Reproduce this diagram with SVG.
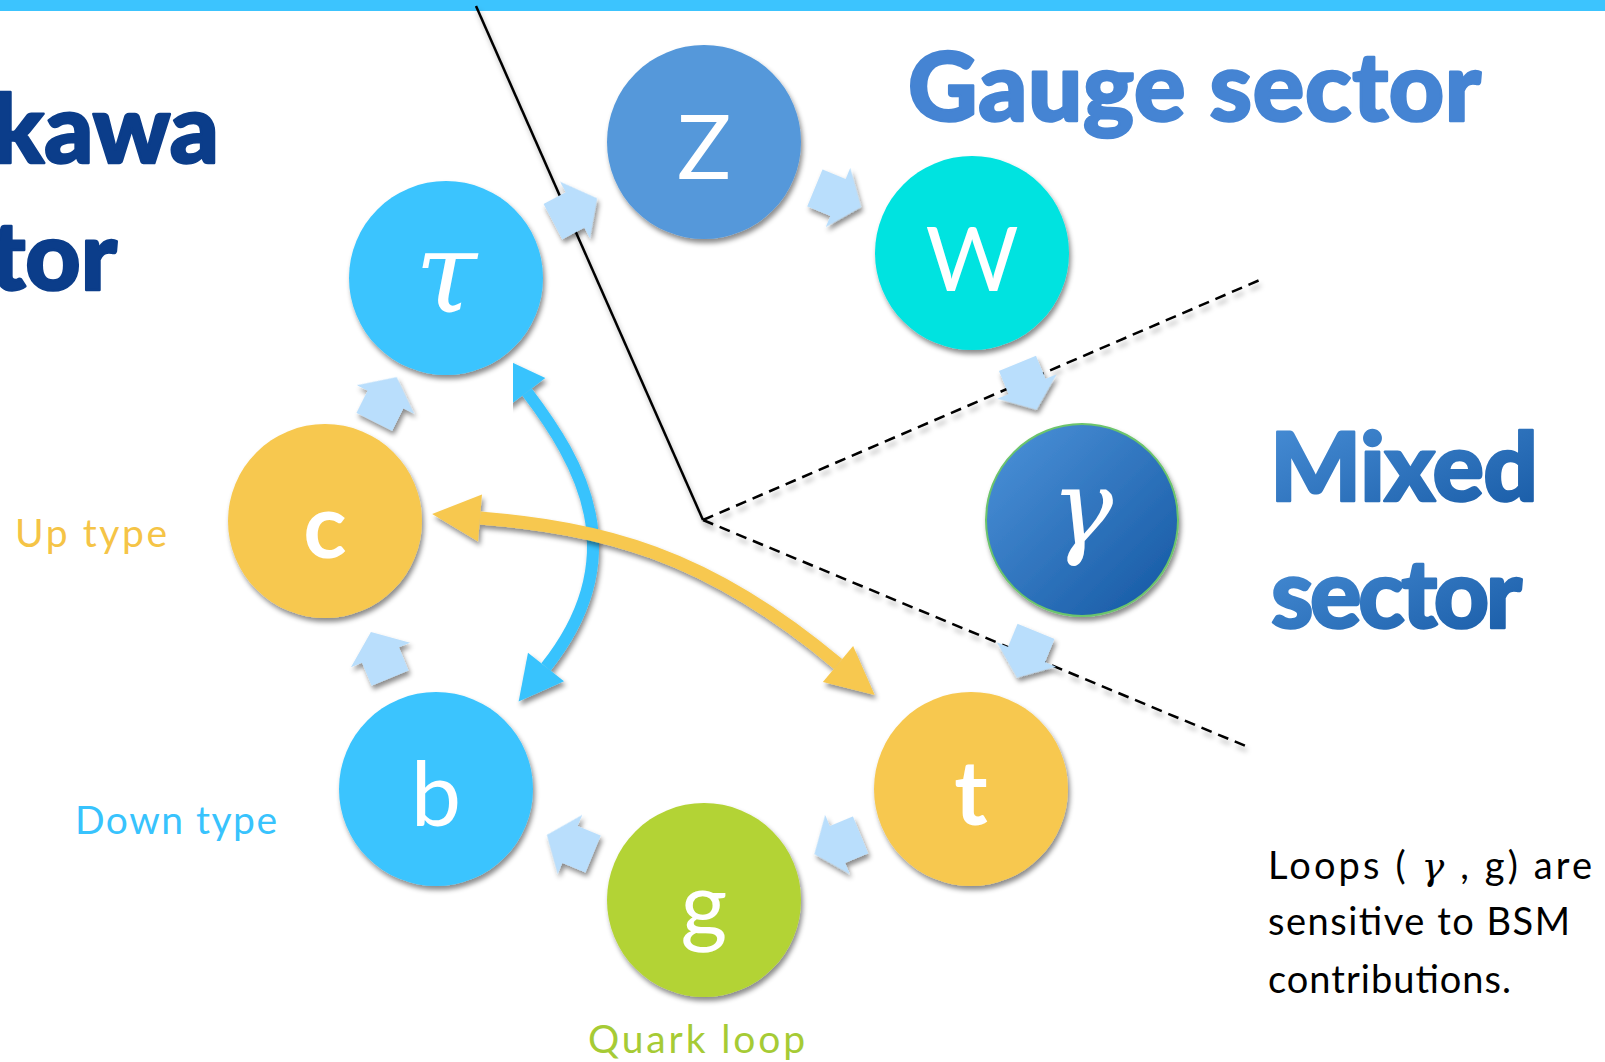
<svg xmlns="http://www.w3.org/2000/svg" width="1605" height="1062" viewBox="0 0 1605 1062">
  <defs>
    <style>
      .title { font-family: Lato, "Open Sans", "Liberation Sans", sans-serif; font-weight: 900; font-size: 96px; stroke-width: 2.5; stroke-linejoin: round; }
      .label { font-family: Lato, "Open Sans", "Liberation Sans", sans-serif; font-size: 39px; }
      .body { font-family: Lato, "Open Sans", "Liberation Sans", sans-serif; font-size: 38px; fill: #000; }
      .sym { font-family: Lato, "Open Sans", "Liberation Sans", sans-serif; font-size: 90px; fill: #fff; text-anchor: middle; }
      .greek { font-family: "DejaVu Serif", "Liberation Serif", serif; font-style: italic; fill: #fff; text-anchor: middle; }
      .step { fill: #B9DEFC; }
      .guide { fill: none; stroke: #000; stroke-width: 2.5; }
      .dash { stroke-dasharray: 11 7; }
    </style>
    <filter id="shadow" x="-20%" y="-20%" width="140%" height="150%">
      <feDropShadow dx="2" dy="4" stdDeviation="2.5" flood-color="#000" flood-opacity="0.45"/>
    </filter>
    <filter id="lineShadow" x="-5%" y="-5%" width="110%" height="120%">
      <feDropShadow dx="2" dy="5" stdDeviation="2.5" flood-color="#000" flood-opacity="0.3"/>
    </filter>
    <linearGradient id="deepBlue" x1="0" y1="0" x2="1" y2="1">
      <stop offset="0" stop-color="#4D93DA"/>
      <stop offset="1" stop-color="#1457A2"/>
    </linearGradient>
    <linearGradient id="mixedText" x1="0" y1="0" x2="1" y2="1">
      <stop offset="0" stop-color="#4A90D8"/>
      <stop offset="1" stop-color="#175AA5"/>
    </linearGradient>
    <!-- small cycle step arrow, pointing along +x, centred on the origin -->
    <path id="stepArrow" class="step" d="M-25,-20 L0,-20 L0,-32 L25,0 L0,32 L0,20 L-25,20 Z"/>
    <marker id="headBlue" markerUnits="userSpaceOnUse" markerWidth="50" markerHeight="50" refX="0" refY="0" orient="auto-start-reverse" overflow="visible">
      <path d="M0,-23 L44,0 L0,23 Z" fill="#39C3FD"/>
    </marker>
    <marker id="headYellow" markerUnits="userSpaceOnUse" markerWidth="50" markerHeight="50" refX="0" refY="0" orient="auto-start-reverse" overflow="visible">
      <path d="M0,-23.5 L48,0 L0,23.5 Z" fill="#F7C84F"/>
    </marker>
  </defs>

  <rect width="1605" height="1062" fill="#fff"/>
  <!-- top band -->
  <rect x="0" y="0" width="1605" height="11" fill="#3CC4FE"/>

  <!-- sector titles -->
  <text class="title" x="219" y="163" text-anchor="end" fill="#0B3D8A" stroke="#0B3D8A">Yukawa</text>
  <text class="title" x="117" y="290" text-anchor="end" fill="#0B3D8A" stroke="#0B3D8A">sector</text>
  <text class="title" x="908" y="121" fill="#4584D3" stroke="#4584D3" textLength="573">Gauge sector</text>
  <text class="title" x="1270" y="501" fill="url(#mixedText)" stroke="url(#mixedText)" textLength="268">Mixed</text>
  <text class="title" x="1271" y="628" fill="url(#mixedText)" stroke="url(#mixedText)" textLength="251">sector</text>

  <!-- side labels -->
  <text class="label" x="15" y="547" fill="#F5C446" textLength="152">Up type</text>
  <text class="label" x="75" y="834" fill="#38C3FD" textLength="202">Down type</text>
  <text class="label" x="588" y="1053" fill="#A6CB35" textLength="217">Quark loop</text>

  <!-- note -->
  <g id="note">
    <text class="body" x="1268" y="879" textLength="324">Loops ( <tspan font-family="'DejaVu Serif', 'Liberation Serif', serif" font-style="italic">γ</tspan> , g) are</text>
    <text class="body" x="1268" y="935" textLength="302">sensitive to BSM</text>
    <text class="body" x="1268" y="993" textLength="243">contributions.</text>
  </g>

  <!-- sector boundaries -->
  <g id="boundaries" filter="url(#lineShadow)">
    <path class="guide" d="M476,6 L703,520"/>
    <path class="guide dash" d="M703,520 L1262,279"/>
    <path class="guide dash" d="M703,520 L1248,747"/>
  </g>

  <!-- nodes -->
  <g id="node-tau" filter="url(#shadow)">
    <circle cx="446" cy="278" r="97" fill="#3AC4FE"/>
    <text class="greek" x="446" y="312" font-size="112">τ</text>
  </g>
  <g id="node-Z" filter="url(#shadow)">
    <circle cx="704" cy="142" r="97" fill="#5598DA"/>
    <text class="sym" x="704" y="179">Z</text>
  </g>
  <g id="node-W" filter="url(#shadow)">
    <circle cx="972" cy="253" r="97" fill="#00E3E0"/>
    <text class="sym" x="972" y="291">W</text>
  </g>
  <g id="node-gamma" filter="url(#shadow)">
    <circle cx="1082" cy="520" r="96" fill="url(#deepBlue)" stroke="#6CC46C" stroke-width="2"/>
    <text class="greek" x="1082" y="544" font-size="104">γ</text>
  </g>
  <g id="node-t" filter="url(#shadow)">
    <circle cx="971" cy="789" r="97" fill="#F7C84F"/>
    <text class="sym" x="971" y="825" font-weight="700" font-size="80">t</text>
  </g>
  <g id="node-g" filter="url(#shadow)">
    <circle cx="704" cy="900" r="97" fill="#B3D335"/>
    <text class="sym" x="704" y="936">g</text>
  </g>
  <g id="node-b" filter="url(#shadow)">
    <circle cx="436" cy="789" r="97" fill="#3AC4FE"/>
    <text class="sym" x="436" y="826">b</text>
  </g>
  <g id="node-c" filter="url(#shadow)">
    <circle cx="325" cy="521" r="97" fill="#F7C84F"/>
    <text class="sym" x="325" y="558" font-weight="700" font-size="86">c</text>
  </g>

  <!-- connectors -->
  <g id="connectors">
    <g id="cycle" filter="url(#shadow)">
      <use href="#stepArrow" transform="translate(380.5,655) rotate(-112.5)"/>
      <use href="#stepArrow" transform="translate(385.5,399.5) rotate(-63.5)"/>
      <use href="#stepArrow" transform="translate(575,210) rotate(-27.8)"/>
      <use href="#stepArrow" transform="translate(838,197.5) rotate(22.5)"/>
      <use href="#stepArrow" transform="translate(1027,386.5) rotate(67.6)"/>
      <use href="#stepArrow" transform="translate(1026.5,654.5) rotate(112.4)"/>
      <use href="#stepArrow" transform="translate(837.5,844.5) rotate(157.4)"/>
      <use href="#stepArrow" transform="translate(570,844.5) rotate(-157.5)"/>
    </g>
    <path id="tau-b" d="M527,392 C580,462 635,555 546,667" fill="none" stroke="#39C3FD" stroke-width="12" marker-start="url(#headBlue)" marker-end="url(#headBlue)" filter="url(#shadow)"/>
    <path id="c-t" d="M480,518 C600,528 705,552 838,664" fill="none" stroke="#F7C84F" stroke-width="13" marker-start="url(#headYellow)" marker-end="url(#headYellow)" filter="url(#shadow)"/>
  </g>
</svg>
